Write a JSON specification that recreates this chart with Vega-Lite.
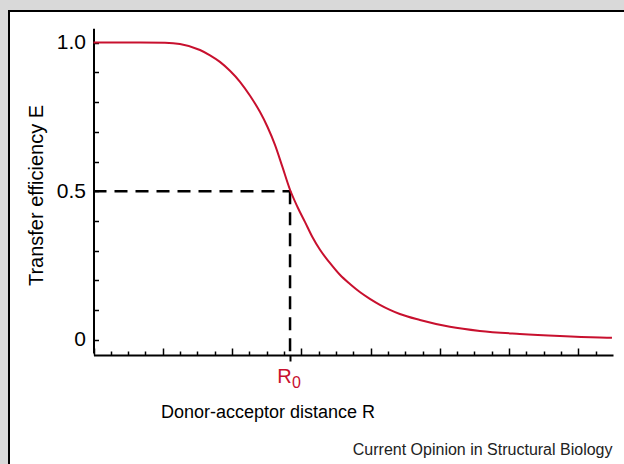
{
  "$schema": "https://vega.github.io/schema/vega-lite/v6.json",
  "width": 617,
  "height": 455,
  "autosize": {"type": "none"},
  "padding": {"left": 9, "top": 11, "right": 0, "bottom": 0},
  "background": "#d9d9d9",
  "config": {
    "view": {"fill": "white", "stroke": "black", "strokeWidth": 2},
    "font": "Liberation Sans",
    "axis": {"grid": false, "domainColor": "black", "tickColor": "black", "labelColor": "black", "titleColor": "black", "titleFontWeight": "normal"}
  },
  "datasets": {
    "curve": [
      {"r": 0, "E": 1.0},
      {"r": 1.5, "E": 1.0},
      {"r": 2.7, "E": 1.0},
      {"r": 4.13, "E": 0.999},
      {"r": 4.99, "E": 0.995},
      {"r": 6.15, "E": 0.975},
      {"r": 6.73, "E": 0.957},
      {"r": 7.3, "E": 0.935},
      {"r": 7.88, "E": 0.905},
      {"r": 8.46, "E": 0.868},
      {"r": 9.04, "E": 0.821},
      {"r": 9.61, "E": 0.767},
      {"r": 10.05, "E": 0.716},
      {"r": 10.48, "E": 0.656},
      {"r": 10.91, "E": 0.582},
      {"r": 11.35, "E": 0.505},
      {"r": 11.78, "E": 0.447},
      {"r": 12.21, "E": 0.397},
      {"r": 12.64, "E": 0.346},
      {"r": 13.08, "E": 0.303},
      {"r": 13.65, "E": 0.259},
      {"r": 14.23, "E": 0.219},
      {"r": 14.81, "E": 0.188},
      {"r": 15.38, "E": 0.161},
      {"r": 15.96, "E": 0.138},
      {"r": 16.54, "E": 0.118},
      {"r": 17.12, "E": 0.101},
      {"r": 17.69, "E": 0.087},
      {"r": 18.85, "E": 0.067},
      {"r": 20.58, "E": 0.044},
      {"r": 22.31, "E": 0.03},
      {"r": 24.62, "E": 0.02},
      {"r": 26.93, "E": 0.013},
      {"r": 29.24, "E": 0.008},
      {"r": 29.94, "E": 0.007}
    ],
    "hguide": [
      {"x1": 0, "x2": 11.35, "y1": 0.5, "y2": 0.5}
    ],
    "vguide": [
      {"x1": 11.35, "x2": 11.35, "y1": 0.5, "y2": -0.044}
    ]
  },
  "layer": [
    {
      "data": {"name": "hguide"},
      "mark": {"type": "rule", "color": "black", "strokeWidth": 2.5, "strokeDash": [13, 8]},
      "encoding": {
        "x": {
          "field": "x1", "type": "quantitative",
          "scale": {"domain": [0, 30], "range": [84.5, 604], "nice": false, "zero": false},
          "axis": {
            "orient": "bottom", "offset": -111, "values": [11.35],
            "domain": false, "tickSize": 6, "tickWidth": 2,
            "labelExpr": "'R'", "labelColor": "#c8102e", "labelFontSize": 20, "labelPadding": 5,
            "labelOffset": -6,
            "title": null
          }
        },
        "x2": {"field": "x2"},
        "y": {
          "field": "y1", "type": "quantitative",
          "scale": {"domain": [-0.044, 1.048], "range": [342, 17.3], "nice": false, "zero": false},
          "axis": {
            "orient": "left", "offset": -84.5, "values": [0, 0.5, 1],
            "domain": false, "ticks": false,
            "labelExpr": "datum.value == 0 ? '0' : format(datum.value, '.1f')",
            "labelFontSize": 21, "labelPadding": 8,
            "title": "Current Opinion in Structural Biology",
            "titleAngle": 0, "titleFontSize": 16, "titleColor": "#222222",
            "titleAlign": "right", "titleBaseline": "middle",
            "titleX": 518.5, "titleY": 438
          }
        },
        "y2": {"field": "y2"}
      }
    },
    {
      "data": {"name": "vguide"},
      "mark": {"type": "rule", "color": "black", "strokeWidth": 2.5, "strokeDash": [13, 8]},
      "encoding": {
        "x": {
          "field": "x1", "type": "quantitative",
          "axis": {
            "orient": "bottom", "offset": -111, "values": [11.35],
            "domain": false, "ticks": false,
            "labelExpr": "'0'", "labelColor": "#c8102e", "labelFontSize": 16, "labelPadding": 19,
            "labelOffset": 6,
            "title": null
          }
        },
        "x2": {"field": "x2"},
        "y": {"field": "y1", "type": "quantitative", "axis": null},
        "y2": {"field": "y2"}
      }
    },
    {
      "data": {"name": "curve"},
      "mark": {"type": "line", "color": "#c8102e", "strokeWidth": 2, "interpolate": "monotone"},
      "encoding": {
        "x": {
          "field": "r", "type": "quantitative",
          "axis": {
            "orient": "bottom", "offset": -111,
            "values": [0,1,2,3,4,5,6,7,8,9,10,11,12,13,14,15,16,17,18,19,20,21,22,23,24,25,26,27,28,29],
            "labels": false, "domainWidth": 2, "tickWidth": 1.5,
            "tickSize": {"condition": {"test": "datum.value % 4 === 0", "value": -7}, "value": -4},
            "title": "Donor-acceptor distance R", "titleFontSize": 18,
            "titleX": 258.5, "titleY": 57, "titleBaseline": "middle"
          }
        },
        "y": {
          "field": "E", "type": "quantitative",
          "axis": {
            "orient": "left", "offset": -84.5,
            "values": [0, 0.1, 0.2, 0.3, 0.4, 0.5, 0.6, 0.7, 0.8, 0.9, 1.0],
            "labels": false, "domainWidth": 2, "tickWidth": 1.5, "tickSize": -5,
            "title": "Transfer efficiency E", "titleFontSize": 20,
            "titleX": -57.5, "titleY": 184, "titleBaseline": "middle"
          }
        }
      }
    }
  ],
  "resolve": {"axis": {"x": "independent", "y": "independent"}}
}
